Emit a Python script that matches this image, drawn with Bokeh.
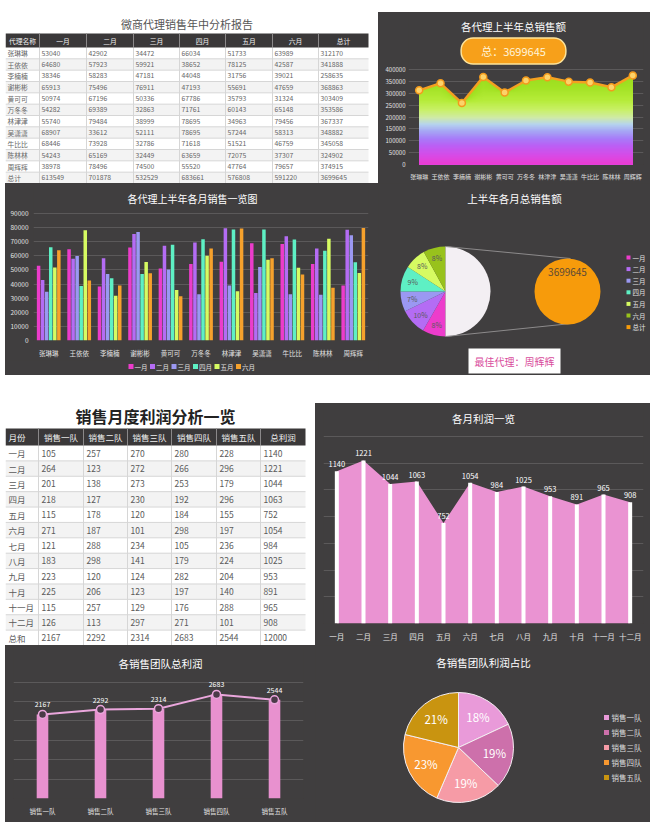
import numpy as np
from bokeh.plotting import figure
from bokeh.models import (Range1d, FactorRange, Label, FixedTicker, NumeralTickFormatter, ColumnDataSource)
from bokeh.transform import dodge
from bokeh.core.properties import value
from bokeh.embed import file_html
from bokeh.resources import INLINE

FONT = "Noto Sans CJK SC"
DARK = "#403e3f"
HEAD = "#3a3839"
GRIDC = "#5b595a"

# ---------------- data: agents, first half year ----------------
agents = ["张琳琳", "王依依", "李楠楠", "谢彬彬", "黄可可", "万冬冬",
          "林津津", "吴潇潇", "牛比比", "陈林林", "周辉辉"]
months6 = ["一月", "二月", "三月", "四月", "五月", "六月"]
sales_jan = [53040, 64680, 38346, 65913, 50974, 54282, 55740, 68907, 68446, 54243, 38978]
sales_feb = [42902, 57923, 58283, 75496, 67196, 69389, 79484, 33612, 73928, 65169, 78496]
sales_mar = [34472, 59921, 47181, 76911, 50336, 32863, 38999, 52111, 32786, 32449, 74500]
sales_apr = [66034, 38652, 44048, 47193, 67786, 71761, 78695, 78695, 71618, 63659, 55520]
sales_may = [51733, 78125, 31756, 55691, 35793, 60143, 34963, 57244, 51521, 72075, 47764]
sales_jun = [63989, 42587, 39021, 47659, 31324, 65148, 79456, 58313, 46759, 37307, 79657]
agent_totals = [312170, 341888, 258635, 368863, 303409, 353586, 367337, 348882, 345058, 324902, 374915]
month_totals = [613549, 701878, 532529, 683661, 576808, 591220]
grand_total = 3699645
month_pct_labels = ["8%", "10%", "7%", "9%", "8%", "8%"]
area_ticks = [0, 50000, 100000, 150000, 200000, 250000, 300000, 350000, 400000]
bar_ticks = [0, 10000, 20000, 30000, 40000, 50000, 60000, 70000, 80000, 90000]

# ---------------- data: monthly profit by team ----------------
months12 = ["一月", "二月", "三月", "四月", "五月", "六月",
            "七月", "八月", "九月", "十月", "十一月", "十二月"]
teams = ["销售一队", "销售二队", "销售三队", "销售四队", "销售五队"]
team1 = [105, 264, 201, 218, 115, 271, 121, 183, 223, 225, 115, 126]
team2 = [257, 123, 138, 127, 178, 187, 288, 298, 120, 206, 257, 113]
team3 = [270, 272, 273, 230, 120, 101, 234, 141, 124, 123, 129, 297]
team4 = [280, 266, 253, 192, 184, 298, 105, 179, 282, 197, 176, 271]
team5 = [228, 296, 179, 296, 155, 197, 236, 224, 204, 140, 288, 101]
month_profit = [1140, 1221, 1044, 1063, 752, 1054, 984, 1025, 953, 891, 965, 908]
team_totals = [2167, 2292, 2314, 2683, 2544]
grand_profit = 12000
team_pct_labels = ["18%", "19%", "19%", "23%", "21%"]
profit_ticks = [0, 200, 400, 600, 800, 1000, 1200, 1400]
team_ticks = [0, 500, 1000, 1500, 2000, 2500, 3000]

bar_colors = ["#ec3ccb", "#b46cf4", "#9b98f2", "#5ef0c4", "#d6fb62", "#f6a12c"]
pie_colors = ["#ec3ccb", "#b46cf4", "#9b98f2", "#5ef0c4", "#d6fb62", "#98c21c"]
team_colors = ["#e99ad9", "#cd70ab", "#f69ba6", "#f89830", "#c99410"]


def base_fig(name, W, H, bg="white", **kw):
    return figure(name=name, width=W, height=H, toolbar_location=None, output_backend="svg",
                  title=None, styles={"background-color": bg}, **kw)


def dark(p):
    p.background_fill_color = DARK
    p.border_fill_color = DARK
    p.outline_line_color = None


def style_axis(ax, fs, color="#e2e2e2", standoff=4):
    ax.axis_line_color = None
    ax.major_tick_line_color = None
    ax.minor_tick_line_color = None
    ax.major_tick_out = 0
    ax.major_tick_in = 0
    ax.minor_tick_out = 0
    ax.major_label_text_font = FONT
    ax.major_label_text_font_size = fs
    ax.major_label_text_color = color
    ax.major_label_standoff = standoff


def label(p, x, y, text, fs, color="white", style="normal"):
    p.add_layout(Label(x=x, y=y, text=text, text_align="center", text_baseline="middle",
                       text_color=color, text_font=FONT, text_font_size=fs, text_font_style=style))


def yd(py, H, bot, lo, hi, top_px):
    per = (hi - lo) / (H - bot - top_px)
    return hi + (top_px - py) * per


def xs_cat(px, left, right, W, n):
    return (px - left) / (W - left - right) * n


def table_fig(name, W, H, edges, header, row_labels, cols, title, title_y, title_fs, title_color,
              title_style, head_top, head_bot, fs, head_fs, pad, first_left, text_color):
    p = base_fig(name, W, H, x_range=Range1d(0, W), y_range=Range1d(H, 0),
                 x_axis_type=None, y_axis_type=None, min_border=0)
    p.outline_line_color = None
    p.background_fill_color = "white"
    p.border_fill_color = "white"
    n = len(row_labels)
    rh = (H - head_bot) / n
    x0, x1 = edges[0], edges[-1]
    tops = [head_bot + i * rh for i in range(n)]
    shade = ["#ffffff" if i % 2 == 0 else "#f3f3f3" for i in range(n)]
    p.quad(left=x0, right=x1, top=tops, bottom=[t + rh for t in tops], fill_color=shade, line_color=None)
    p.quad(left=[x0], right=[x1], top=[head_top], bottom=[head_bot], fill_color=HEAD, line_color=None)
    ys = [head_bot + i * rh for i in range(1, n + 1)]
    p.segment(x0=x0, y0=ys, x1=x1, y1=ys, line_color="#d6d6d6", line_width=1)
    inner = edges[1:-1]
    p.segment(x0=inner, y0=head_bot, x1=inner, y1=H, line_color="#d6d6d6", line_width=1)
    p.segment(x0=inner, y0=head_top, x1=inner, y1=head_bot, line_color="#8a8889", line_width=1)
    hx, hy, ht, ha = [], [], [], []
    for j, h in enumerate(header):
        if j == 0 and first_left:
            hx.append(edges[0] + pad); ha.append("left")
        else:
            hx.append((edges[j] + edges[j + 1]) / 2); ha.append("center")
        hy.append((head_top + head_bot) / 2)
        ht.append(h)
    p.text(x=hx, y=hy, text=ht, text_align=ha, text_baseline="middle", text_color="#f0f0f0",
           text_font=value(FONT), text_font_size=head_fs)
    cx, cy, ct = [], [], []
    for j, colv in enumerate([row_labels] + cols):
        for i, v in enumerate(colv):
            cx.append(edges[j] + pad)
            cy.append(head_bot + (i + 0.5) * rh)
            ct.append(str(v))
    p.text(x=cx, y=cy, text=ct, text_align="left", text_baseline="middle", text_color=text_color,
           text_font=value(FONT), text_font_size=fs)
    p.text(x=[(x0 + x1) / 2], y=[title_y], text=[title], text_align="center", text_baseline="middle",
           text_color=title_color, text_font=value(FONT), text_font_size=title_fs,
           text_font_style=title_style)
    return p


# ================= table 1 =================
sales = [sales_jan, sales_feb, sales_mar, sales_apr, sales_may, sales_jun]
t1_cols = [s + [mt] for s, mt in zip(sales, month_totals)] + [agent_totals + [grand_total]]
t1 = table_fig("t1", 373, 171, [0, 34, 81, 128, 174, 220, 267, 313, 363],
               ["代理名称"] + months6 + ["总计"], agents + ["总计"], t1_cols,
               "微商代理销售年中分析报告", 11, "11px", "#555555", "normal",
               21, 35, "6.8px", "6.8px", 2, False, "#666666")

# ================= area chart =================
AW, AH, AL, AR, AB, AT = 272, 171, 30, 7, 19, 57
a_hi = yd(0, AH, AB, 0, 400000, AT)
area = base_fig("area", AW, AH, bg=DARK, x_range=FactorRange(factors=agents), y_range=Range1d(0, a_hi),
                min_border_left=AL, min_border_right=AR, min_border_top=0, min_border_bottom=AB)
dark(area)
area.yaxis.ticker = FixedTicker(ticks=area_ticks)
area.yaxis.formatter = NumeralTickFormatter(format="0")
style_axis(area.yaxis[0], "6px", standoff=3)
style_axis(area.xaxis[0], "6px", standoff=7)
area.ygrid.grid_line_color = GRIDC
area.xgrid.visible = False

stops = [(0.0, "#ec3acf"), (0.1, "#d84ae6"), (0.2, "#bc5ef4"), (0.28, "#a77cf8"),
         (0.36, "#a6a8f4"), (0.43, "#b6d4ee"), (0.5, "#cfeaa6"), (0.58, "#c9f068"),
         (0.68, "#b6ec3a"), (0.82, "#a3e224"), (1.0, "#97db1c")]


def grad(f):
    for (f0, c0), (f1, c1) in zip(stops[:-1], stops[1:]):
        if f0 <= f <= f1:
            t = (f - f0) / (f1 - f0)
            a = [int(c0[k:k + 2], 16) for k in (1, 3, 5)]
            b = [int(c1[k:k + 2], 16) for k in (1, 3, 5)]
            return "#%02x%02x%02x" % tuple(int(round(a[i] + (b[i] - a[i]) * t)) for i in range(3))
    return stops[-1][1]


tot = np.array(agent_totals)
for b in range(400000, 0, -5000):
    area.varea(x=agents, y1=0, y2=np.minimum(tot, b), fill_color=grad(b / 400000))
area.line(agents, agent_totals, line_color="#f5a020", line_width=2.5)
area.scatter(agents, agent_totals, size=7, fill_color="#fcd36a", line_color="#f39a1c", line_width=1.5)
a_cx = xs_cat(135, AL, AR, AW, len(agents))
label(area, a_cx, yd(14, AH, AB, 0, 400000, AT), "各代理上半年总销售额", "10.5px")
area.add_layout(Label(x=a_cx, y=yd(38.5, AH, AB, 0, 400000, AT), text="总：%d" % grand_total,
                      text_align="center", text_baseline="middle", text_color="#fff4d8",
                      text_font=FONT, text_font_size="11px",
                      background_fill_color="#f7a01a", border_line_color="#fde39a",
                      border_line_width=1.5, border_radius=12,
                      padding=dict(left=20, right=20, top=5, bottom=5)))

# ================= grouped bar chart =================
BW, BH, BL, BR, BB, BT = 373, 192, 28, 10, 35, 30
b_hi = yd(0, BH, BB, 0, 90000, BT)
bar = base_fig("bar", BW, BH, bg=DARK, x_range=FactorRange(factors=agents), y_range=Range1d(0, b_hi),
               min_border_left=BL, min_border_right=BR, min_border_top=0, min_border_bottom=BB)
dark(bar)
bar.yaxis.ticker = FixedTicker(ticks=bar_ticks)
bar.yaxis.formatter = NumeralTickFormatter(format="0")
style_axis(bar.yaxis[0], "6.5px", standoff=5)
style_axis(bar.xaxis[0], "6.5px", standoff=7)
bar.ygrid.grid_line_color = GRIDC
bar.xgrid.visible = False
for i, (m, vals, c) in enumerate(zip(months6, sales, bar_colors)):
    src = ColumnDataSource(dict(agent=agents, v=vals))
    bar.vbar(x=dodge("agent", (i - 2.5) * 0.133, range=bar.x_range), top="v", width=0.115,
             source=src, fill_color=c, line_color=None)
label(bar, xs_cat(187, BL, BR, BW, len(agents)), yd(15, BH, BB, 0, 90000, BT),
      "各代理上半年各月销售一览图", "10px")

# legend strip under the bar chart
GW, GH = 373, 12
barleg = base_fig("barleg", GW, GH, bg=DARK, x_range=Range1d(0, GW), y_range=Range1d(0, GH),
                  x_axis_type=None, y_axis_type=None, min_border=0)
dark(barleg)
lx = [123 + 21.5 * i for i in range(len(months6))]
barleg.rect(x=[v + 2.5 for v in lx], y=6, width=5, height=5, fill_color=bar_colors, line_color=None)
barleg.text(x=[v + 6 for v in lx], y=6, text=months6, text_align="left", text_baseline="middle",
            text_color="#e0e0e0", text_font=value(FONT), text_font_size="6.5px")

# ================= pie of pie =================
PW, PH = 272, 192
pie = base_fig("pie", PW, PH, bg=DARK, x_range=Range1d(0, PW), y_range=Range1d(0, PH),
               x_axis_type=None, y_axis_type=None, min_border=0)
dark(pie)
denom = sum(month_totals) + grand_total
fr = [v / denom for v in month_totals] + [grand_total / denom]
cx0, cy0, r0 = 67, 84, 45
a_s, a_e, cum = [], [], 0.0
for f in fr:
    s = -np.pi / 2 - cum * 2 * np.pi
    e = s - f * 2 * np.pi
    a_s.append(e); a_e.append(s)
    cum += f
pie.wedge(x=cx0, y=cy0, radius=r0, start_angle=a_s, end_angle=a_e, direction="anticlock",
          fill_color=pie_colors + ["#f3eff3"], line_color=None)
mid = [(a + b) / 2 for a, b in zip(a_s[:-1], a_e[:-1])]
pie.text(x=[cx0 + 0.76 * r0 * np.cos(m) for m in mid], y=[cy0 + 0.76 * r0 * np.sin(m) for m in mid],
         text=month_pct_labels, text_align="center", text_baseline="middle", text_color="#5a5a5a",
         text_font=value(FONT), text_font_size="7px")
cx1, r1 = 189, 33
pie.segment(x0=[cx0, cx0], y0=[cy0 + r0, cy0 - r0], x1=[cx1 + 3, cx1 + 4], y1=[cy0 + r1, cy0 - r1 + 1],
            line_color="#8c8a8b", line_width=1)
pie.circle(x=[cx1], y=[cy0], radius=r1, fill_color="#f79b0b", line_color=None)
pie.text(x=[cx1], y=[cy0 + 20], text=[str(grand_total)], text_align="center", text_baseline="middle",
         text_color="#5b4a36", text_font=value(FONT), text_font_size="10px")
leg_labels = months6 + ["总计"]
leg_cols = pie_colors + ["#f79b0b"]
ly = [118 - 11.6 * i for i in range(len(leg_labels))]
pie.rect(x=250, y=ly, width=4, height=4, fill_color=leg_cols, line_color=None)
pie.text(x=254, y=ly, text=leg_labels, text_align="left", text_baseline="middle", text_color="#e0e0e0",
         text_font=value(FONT), text_font_size="6.5px")
best = agents[int(np.argmax(agent_totals))]
pie.quad(left=[90], right=[182], top=[27], bottom=[2], fill_color="white", line_color=None)
pie.text(x=[136], y=[14.5], text=["最佳代理：" + best], text_align="center", text_baseline="middle",
         text_color="#d94c9c", text_font=value(FONT), text_font_size="10px")
pie.text(x=[136], y=[177], text=["上半年各月总销售额"], text_align="center", text_baseline="middle",
         text_color="white", text_font=value(FONT), text_font_size="10.5px")

# ================= table 2 =================
tdata = [team1, team2, team3, team4, team5]
t2_cols = [t + [tt] for t, tt in zip(tdata, team_totals)] + [month_profit + [grand_profit]]
t2 = table_fig("t2", 310, 242, [0, 33, 78, 122, 166, 211, 255, 300],
               ["月份"] + teams + ["总利润"], months12 + ["总和"], t2_cols,
               "销售月度利润分析一览", 12, "16px", "#222222", "bold",
               25, 42, "8.5px", "8.5px", 3, True, "#5a5a5a")

# ================= monthly profit =================
QW, QH, QL, QR, QB, QT = 335, 242, 8, 7, 22, 33
q_hi = yd(0, QH, QB, 0, 1400, QT)
prof = base_fig("prof", QW, QH, bg=DARK, x_range=FactorRange(factors=months12), y_range=Range1d(0, q_hi),
                min_border_left=QL, min_border_right=QR, min_border_top=0, min_border_bottom=QB)
dark(prof)
prof.yaxis.ticker = FixedTicker(ticks=profit_ticks)
prof.yaxis.visible = False
style_axis(prof.xaxis[0], "7.5px", standoff=7)
prof.ygrid.grid_line_color = GRIDC
prof.xgrid.visible = False
prof.varea(x=months12, y1=0, y2=month_profit, fill_color="#ea93d2")
prof.vbar(x=months12, top=month_profit, width=0.15, fill_color="white", line_color=None)
prof.text(x=months12, y=month_profit, text=[str(v) for v in month_profit], y_offset=-4,
          text_align="center", text_baseline="bottom", text_color="white",
          text_font=value(FONT), text_font_size="7.5px")
label(prof, xs_cat(168, QL, QR, QW, len(months12)), yd(15, QH, QB, 0, 1400, QT), "各月利润一览", "10.5px")

# ================= team totals =================
LW, LH, LL, LR, LB, LT = 310, 177, 8, 12, 24, 36.6
l_hi = yd(0, LH, LB, 0, 3000, LT)
tline = base_fig("tline", LW, LH, bg=DARK, x_range=FactorRange(factors=teams), y_range=Range1d(0, l_hi),
                 min_border_left=LL, min_border_right=LR, min_border_top=0, min_border_bottom=LB)
dark(tline)
tline.yaxis.ticker = FixedTicker(ticks=team_ticks)
tline.yaxis.visible = False
style_axis(tline.xaxis[0], "6.5px", standoff=7)
tline.ygrid.grid_line_color = GRIDC
tline.xgrid.visible = False
tline.vbar(x=teams, top=team_totals, width=0.2, fill_color="#e891cf", line_color=None)
tline.line(teams, team_totals, line_color="#eaa6dc", line_width=2)
tline.scatter(teams, team_totals, size=8, fill_color="#4b3a48", line_color="#eaa6dc", line_width=1.5)
tline.text(x=teams, y=team_totals, text=[str(v) for v in team_totals], y_offset=-7,
           text_align="center", text_baseline="bottom", text_color="white",
           text_font=value(FONT), text_font_size="7px")
label(tline, xs_cat(155, LL, LR, LW, len(teams)), yd(18, LH, LB, 0, 3000, LT), "各销售团队总利润", "10.5px")

# ================= team pie =================
RW, RH = 335, 177
tpie = base_fig("tpie", RW, RH, bg=DARK, x_range=Range1d(0, RW), y_range=Range1d(0, RH),
                x_axis_type=None, y_axis_type=None, min_border=0)
dark(tpie)
tfr = [v / grand_profit for v in team_totals]
tcx, tcy, tr = 143, 75, 55
b_s, b_e, cum = [], [], 0.0
for f in tfr:
    s = np.pi / 2 - cum * 2 * np.pi
    e = s - f * 2 * np.pi
    b_s.append(e); b_e.append(s)
    cum += f
tpie.wedge(x=tcx, y=tcy, radius=tr, start_angle=b_s, end_angle=b_e, direction="anticlock",
           fill_color=team_colors, line_color="#f4eef2", line_width=1)
tmid = [(a + b) / 2 for a, b in zip(b_s, b_e)]
tpie.text(x=[tcx + 0.66 * tr * np.cos(m) for m in tmid], y=[tcy + 0.66 * tr * np.sin(m) for m in tmid],
          text=team_pct_labels, text_align="center", text_baseline="middle", text_color="white",
          text_font=value(FONT), text_font_size="11.5px")
tly = [105 - 15 * i for i in range(len(teams))]
tpie.rect(x=291, y=tly, width=5, height=5, fill_color=team_colors, line_color=None)
tpie.text(x=296, y=tly, text=teams, text_align="left", text_baseline="middle", text_color="#dcdcdc",
          text_font=value(FONT), text_font_size="7.5px")
tpie.text(x=[168], y=[160], text=["各销售团队利润占比"], text_align="center", text_baseline="middle",
          text_color="white", text_font=value(FONT), text_font_size="10.5px")

# ---------------- page assembly: every panel placed at its spot ----------------
pos = {"t1": (5, 12), "area": (378, 12), "bar": (5, 183), "barleg": (5, 360), "pie": (378, 183),
       "t2": (5, 403), "prof": (315, 403), "tline": (5, 645), "tpie": (315, 645)}
TEMPLATE = """
{% from macros import embed with context %}
{% block contents %}
<div style="position:relative;width:655px;height:822px;">
{% for root in docs[0].roots %}
<div style="position:absolute;left:{{ pos[root.name][0] }}px;top:{{ pos[root.name][1] }}px;">{{ embed(root) }}</div>
{% endfor %}
</div>
{% endblock %}
"""
models = [t1, area, bar, barleg, pie, t2, prof, tline, tpie]
open("out.html", "w").write(file_html(models, INLINE, title="销售分析", template=TEMPLATE,
                                      template_variables={"pos": pos}))
